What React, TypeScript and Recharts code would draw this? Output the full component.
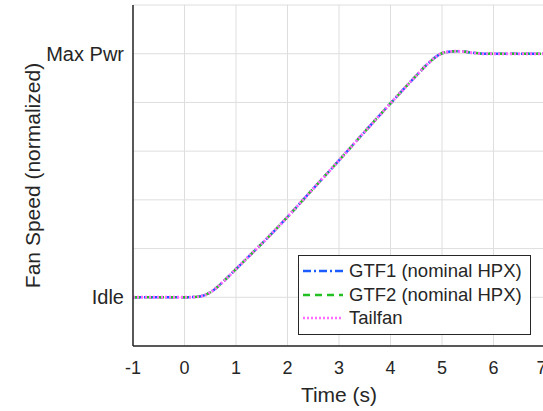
import React from 'react';
import { LineChart, Line, XAxis, YAxis, CartesianGrid, Legend } from 'recharts';

const timeS = [-1, 0, 0.25, 0.5, 0.75, 1, 1.25, 1.5, 1.75, 2, 2.5, 3, 3.5, 4, 4.5, 4.75, 4.9, 5.0, 5.1, 5.25, 5.4, 5.6, 5.8, 6, 6.5, 7];
const gtf1 = [1, 1, 1.01, 1.1, 1.32, 1.58, 1.84, 2.1, 2.37, 2.65, 3.23, 3.81, 4.4, 4.98, 5.55, 5.82, 5.95, 6.01, 6.035, 6.05, 6.045, 6.02, 6.0, 6.0, 6.0, 6.0];
const gtf2 = [1, 1, 1.01, 1.1, 1.32, 1.58, 1.84, 2.1, 2.37, 2.65, 3.23, 3.81, 4.4, 4.98, 5.55, 5.82, 5.95, 6.01, 6.035, 6.05, 6.045, 6.02, 6.0, 6.0, 6.0, 6.0];
const tailfan = [1, 1, 1.01, 1.1, 1.32, 1.58, 1.84, 2.1, 2.37, 2.65, 3.23, 3.81, 4.4, 4.98, 5.55, 5.82, 5.95, 6.01, 6.035, 6.05, 6.045, 6.02, 6.0, 6.0, 6.0, 6.0];

const xTicks = [-1, 0, 1, 2, 3, 4, 5, 6, 7];
const yTicks = [1, 2, 3, 4, 5, 6];
const yTickValues = [1, 6];
const yTickNames = ['Idle', 'Max Pwr'];
const seriesNames = ['GTF1 (nominal HPX)', 'GTF2 (nominal HPX)', 'Tailfan'];
const seriesKeys = ['gtf1', 'gtf2', 'tailfan'];
const seriesColors = ['#1a5cff', '#22c022', '#ff6cff'];
const seriesDash = ['8 3 2 3', '7 5', '2 2'];
const seriesWidth = [2.5, 2.5, 3];

const data = timeS.map((t, i) => ({ t, gtf1: gtf1[i], gtf2: gtf2[i], tailfan: tailfan[i] }));

const FONT = '"Liberation Sans", Arial, Helvetica, sans-serif';
const INK = '#262626';

const yTickFormatter = (v: number) => {
  const i = yTickValues.indexOf(v);
  return i >= 0 ? yTickNames[i] : '';
};

const LegendBox = () => (
  <div
    style={{
      width: 231,
      height: 74,
      border: `1px solid ${INK}`,
      background: '#fff',
      fontFamily: FONT,
      fontSize: 18.5,
      color: INK,
      paddingTop: 3.5,
      boxSizing: 'content-box',
    }}
  >
    {seriesNames.map((name, i) => (
      <div key={name} style={{ height: 23.5, display: 'flex', alignItems: 'center', paddingLeft: 4, whiteSpace: 'nowrap' }}>
        <svg width={46} height={10} style={{ display: 'block', flex: 'none' }}>
          <line x1={0} x2={40} y1={5} y2={5} stroke={seriesColors[i]} strokeWidth={2.5} strokeDasharray={seriesDash[i]} />
        </svg>
        <span style={{ lineHeight: '20px' }}>{name}</span>
      </div>
    ))}
  </div>
);

const YLabel = () => (
  <text
    x={32}
    y={175.5}
    transform="rotate(-90 32 175.5)"
    textAnchor="middle"
    dominantBaseline="central"
    fontFamily={FONT}
    fontSize={21}
    fill={INK}
  >
    Fan Speed (normalized)
  </text>
);

export default function App() {
  return (
    <div style={{ width: 543, height: 411, overflow: 'hidden', position: 'relative', background: '#fff' }}>
      <style>{'body{margin:0;overflow:hidden;background:#fff}'}</style>
      <LineChart width={546} height={411} data={data} margin={{ top: 5, right: 1, left: 0, bottom: 0 }}>
        <CartesianGrid xAxisId="main" yAxisId="main" stroke="#dedede" strokeWidth={1} />
        <XAxis
          xAxisId="innerBottom"
          dataKey="t"
          type="number"
          domain={[-1, 7]}
          ticks={xTicks}
          orientation="bottom"
          height={0}
          mirror
          tick={false}
          axisLine={false}
          tickLine={{ stroke: INK, strokeWidth: 1.2 }}
          tickSize={5}
        />
        <XAxis
          xAxisId="main"
          dataKey="t"
          type="number"
          domain={[-1, 7]}
          ticks={xTicks}
          orientation="bottom"
          height={65}
          axisLine={{ stroke: INK, strokeWidth: 1.5 }}
          tickLine={false}
          tickSize={6}
          tickMargin={9}
          tick={{ fontFamily: FONT, fontSize: 18, fill: INK }}
          label={{ value: 'Time (s)', position: 'insideBottom', offset: 9, fontFamily: FONT, fontSize: 21, fill: INK }}
        />
        <XAxis
          xAxisId="top"
          dataKey="t"
          type="number"
          domain={[-1, 7]}
          ticks={xTicks}
          orientation="top"
          height={0}
          mirror
          tick={false}
          axisLine={{ stroke: INK, strokeWidth: 1.5 }}
          tickLine={{ stroke: INK, strokeWidth: 1.2 }}
          tickSize={5}
        />
        <YAxis
          yAxisId="innerLeft"
          type="number"
          domain={[0, 7]}
          ticks={yTicks}
          orientation="left"
          width={0}
          mirror
          tick={false}
          axisLine={false}
          tickLine={{ stroke: INK, strokeWidth: 1.2 }}
          tickSize={5}
        />
        <YAxis
          yAxisId="main"
          type="number"
          domain={[0, 7]}
          ticks={yTicks}
          orientation="left"
          width={133}
          axisLine={{ stroke: INK, strokeWidth: 1.5 }}
          tickLine={false}
          tickSize={6}
          tickMargin={3}
          tickFormatter={yTickFormatter}
          tick={{ fontFamily: FONT, fontSize: 20, fill: INK }}
          label={<YLabel />}
        />
        <YAxis
          yAxisId="right"
          type="number"
          domain={[0, 7]}
          ticks={yTicks}
          orientation="right"
          width={0}
          mirror
          tick={false}
          axisLine={{ stroke: INK, strokeWidth: 1.5 }}
          tickLine={{ stroke: INK, strokeWidth: 1.2 }}
          tickSize={5}
        />
        {seriesKeys.map((k, i) => (
          <Line
            key={k}
            xAxisId="main"
            yAxisId="main"
            type="monotone"
            dataKey={k}
            name={seriesNames[i]}
            stroke={seriesColors[i]}
            strokeWidth={seriesWidth[i]}
            strokeDasharray={seriesDash[i]}
            dot={false}
            activeDot={false}
            isAnimationActive={false}
          />
        ))}
        <Legend
          layout="horizontal"
          align="center"
          verticalAlign="middle"
          content={<LegendBox />}
          wrapperStyle={{ position: 'absolute', left: 298, top: 255, width: 'auto', height: 'auto', bottom: 'auto', right: 'auto' }}
        />
      </LineChart>
    </div>
  );
}
